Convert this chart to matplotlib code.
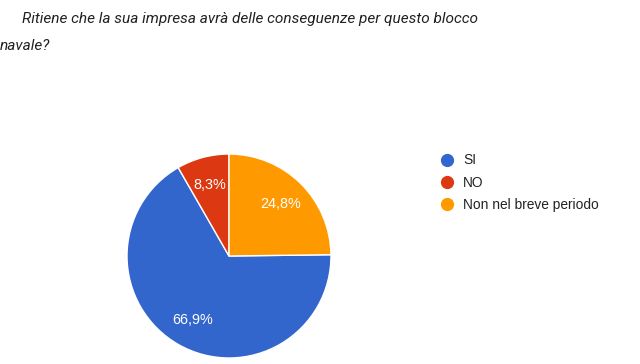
import matplotlib
matplotlib.use("Agg")
import matplotlib.pyplot as plt
from matplotlib.lines import Line2D

# data
labels = ["SI", "NO", "Non nel breve periodo"]
values = [66.9, 8.3, 24.8]
colors = ["#3366cc", "#dc3912", "#ff9900"]
title_lines = ["Ritiene che la sua impresa avrà delle conseguenze per questo blocco", "navale?"]

W, H = 640, 364
fig = plt.figure(figsize=(W / 100, H / 100), dpi=100)
fig.patch.set_facecolor("white")

# pie axes: centre ~ (229, 256) px, radius ~103 px
r = 103
cx, cy = 229, 256
ax = fig.add_axes([(cx - r) / W, (H - cy - r) / H, 2 * r / W, 2 * r / H])

# start so that the last slice ends at 12 o'clock
start = 90 + 360 * (sum(values[:-1]) / sum(values)) - 360
wedges, texts, autotexts = ax.pie(
    values,
    colors=colors,
    startangle=start,
    counterclock=False,
    autopct=lambda p: f"{p:.1f}%".replace(".", ","),
    pctdistance=0.72,
    wedgeprops=dict(edgecolor="white", linewidth=1),
    textprops=dict(color="white", fontsize=10.4, family="Liberation Sans"),
)
ax.set_xlim(-1.01, 1.01)
ax.set_ylim(-1.01, 1.01)
ax.set_aspect("equal")
ax.axis("off")

# title, two lines
fig.text(22 / W, 1 - 23 / H, title_lines[0], fontsize=11.1, style="italic",
         family="Roboto", color="#212121", va="baseline", ha="left")
fig.text(0 / W, 1 - 50 / H, title_lines[1], fontsize=11.1, style="italic",
         family="Roboto", color="#212121", va="baseline", ha="left")

# legend with round markers
handles = [Line2D([0], [0], marker="o", linestyle="", markersize=8.5,
                  markerfacecolor=c, markeredgecolor=c) for c in colors]
leg = fig.legend(handles, labels, loc="upper left",
                 bbox_to_anchor=(436 / W, 1 - 148 / H),
                 frameon=False, handlelength=0.8, handletextpad=0.75,
                 labelspacing=0.6, borderaxespad=0,
                 prop=dict(family="Liberation Sans", size=9.9))
for t in leg.get_texts():
    t.set_color("#222222")

fig.savefig("out.png", dpi=100)
